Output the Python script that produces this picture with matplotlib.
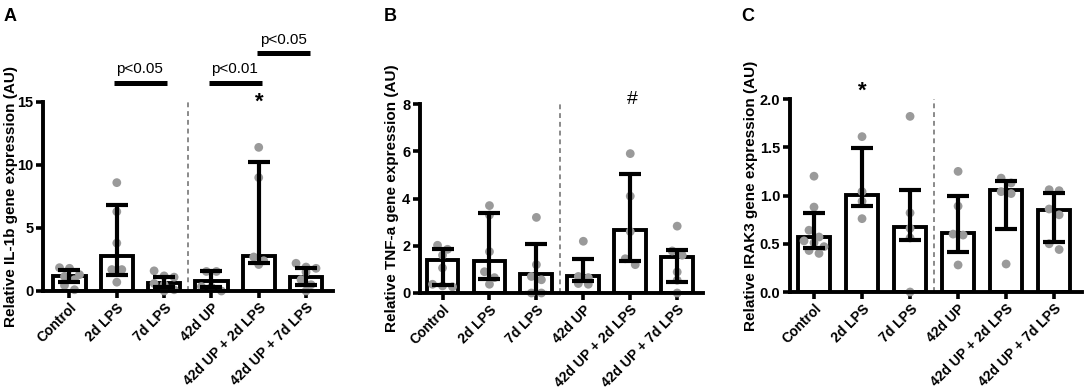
import numpy as np
import matplotlib
matplotlib.use('Agg')
import matplotlib.pyplot as plt

plt.rcParams['font.family'] = ['Liberation Sans', 'DejaVu Sans']

groups = ['Control', '2d LPS', '7d LPS', '42d UP', '42d UP + 2d LPS', '42d UP + 7d LPS']

# panel A - IL-1b
il1b_bar = [1.2, 2.75, 0.65, 0.8, 2.8, 1.1]
il1b_lo = [0.75, 1.3, 0.3, 0.3, 2.2, 0.5]
il1b_hi = [1.7, 6.8, 1.15, 1.55, 10.2, 1.85]
il1b_pts = [[1.85, 1.8, 1.3, 1.15, 0.9, 0.45, 0.1],
            [8.6, 6.3, 3.8, 1.7, 1.7, 0.7],
            [1.6, 1.2, 1.1, 0.6, 0.5, 0.1, 0.0],
            [1.55, 1.55, 0.35, 0.3, 0.0],
            [11.4, 9.0, 2.7, 2.4, 2.1],
            [2.2, 1.9, 1.8, 1.5, 0.9, 0.5, 0.0]]

# panel B - TNF-a
tnf_bar = [1.4, 1.37, 0.8, 0.72, 2.66, 1.53]
tnf_lo = [0.33, 0.6, 0.0, 0.5, 1.35, 0.47]
tnf_hi = [1.87, 3.37, 2.07, 1.45, 5.02, 1.81]
tnf_pts = [[2.02, 1.85, 1.6, 1.06, 0.37, 0.3, 0.26],
           [3.7, 3.3, 1.75, 0.9, 0.65, 0.37],
           [3.2, 1.2, 0.7, 0.56, 0.0, 0.0],
           [2.19, 0.7, 0.65, 0.4, 0.37],
           [5.9, 4.1, 2.6, 1.45, 1.2],
           [2.83, 1.78, 1.6, 0.89, 0.54, 0.0]]

# panel C - IRAK3
irak_bar = [0.57, 1.01, 0.67, 0.61, 1.06, 0.85]
irak_lo = [0.46, 0.89, 0.54, 0.41, 0.65, 0.52]
irak_hi = [0.82, 1.49, 1.06, 0.99, 1.15, 1.03]
irak_pts = [[1.2, 0.88, 0.64, 0.57, 0.53, 0.51, 0.47, 0.43, 0.4],
            [1.61, 1.04, 0.94, 0.76],
            [1.82, 0.82, 0.66, 0.56, 0.0],
            [1.25, 0.89, 0.6, 0.59, 0.28],
            [1.18, 1.13, 1.04, 1.02, 0.29],
            [1.06, 1.05, 0.86, 0.8, 0.5, 0.44]]

ylabels = ['Relative IL-1b gene expression (AU)',
           'Relative TNF-a gene expression (AU)',
           'Relative IRAK3 gene expression (AU)']

fig = plt.figure(figsize=(10.84, 3.92), dpi=100)
W, H = 1084, 392


def swarm(ax, xc, vals, dot=7.0, step=10.0):
    # rows of near-equal values get spread sideways, centred on the bar
    order = np.argsort(vals)[::-1]
    pix = ax.transData.transform(np.column_stack([np.full(len(vals), xc), vals]))
    xs = np.zeros(len(vals))
    rows = []
    for i in order:
        if rows and abs(pix[rows[-1][0], 1] - pix[i, 1]) < dot:
            rows[-1].append(i)
        else:
            rows.append([i])
    for r in rows:
        n = len(r)
        for k, i in enumerate(r):
            px = pix[i, 0] + (k - (n - 1) / 2) * step
            xs[i] = ax.transData.inverted().transform((px, pix[i, 1]))[0]
    return xs


def panel(rect, xlim, ymax, yticks, bar, lo, hi, pts, ylabel, lab_px, letter, letter_x):
    ax = fig.add_axes([rect[0] / W, 1 - rect[3] / H, (rect[1] - rect[0]) / W, (rect[3] - rect[2]) / H])
    x = np.arange(len(groups))
    ax.set_xlim(*xlim)
    ax.set_ylim(0, ymax)
    bar = np.array(bar)
    ax.bar(x, bar, width=0.68, facecolor='white', edgecolor='black', linewidth=2.8, zorder=2)
    for i in range(len(groups)):
        xs = swarm(ax, x[i], pts[i])
        ax.scatter(xs, pts[i], s=40, color='#9a9a9a', edgecolors='none', zorder=3, clip_on=False)
    ax.errorbar(x, bar, yerr=[bar - np.array(lo), np.array(hi) - bar], fmt='none',
                ecolor='black', elinewidth=3.0, capsize=8, capthick=3.0, zorder=4)
    ax.plot([2.5, 2.5], [0, ymax], ls=(0, (2.5, 2)), color='#8a8a8a', lw=1.4, zorder=1)
    for s in ['top', 'right']:
        ax.spines[s].set_visible(False)
    for s in ['left', 'bottom']:
        ax.spines[s].set_linewidth(2.8)
        ax.spines[s].set_zorder(5)
    ax.set_yticks(yticks)
    ax.set_xticks(x)
    ax.set_xticklabels(groups, rotation=45, ha='right', rotation_mode='anchor', fontweight='bold', fontsize=10)
    ax.tick_params(axis='both', length=5, width=2.6, pad=2)
    ax.tick_params(axis='y', labelsize=10.5)
    for t in ax.get_yticklabels():
        t.set_fontweight('bold')
    ax.set_ylabel(ylabel, fontweight='bold', fontsize=11)
    ax.yaxis.label.set_va('center')
    ax.yaxis.set_label_coords((lab_px - rect[0]) / (rect[1] - rect[0]), 0.5)
    fig.text(letter_x / W, 1 - 21 / H, letter, fontsize=13, fontweight='bold')
    return ax


axA = panel((43, 333, 102, 291), (-0.56, 5.57), 15, [0, 5, 10, 15],
            il1b_bar, il1b_lo, il1b_hi, il1b_pts, ylabels[0], 11, 'A', 4)
axB = panel((420, 703, 104, 293), (-0.48, 5.55), 8, [0, 2, 4, 6, 8],
            tnf_bar, tnf_lo, tnf_hi, tnf_pts, ylabels[1], 392, 'B', 384)
axC = panel((790, 1082, 99, 292), (-0.5, 5.58), 2, [0.0, 0.5, 1.0, 1.5, 2.0],
            irak_bar, irak_lo, irak_hi, irak_pts, ylabels[2], 751, 'C', 741)
axC.set_yticklabels(['0.0', '0.5', '1.0', '1.5', '2.0'], fontweight='bold')

# significance marks, panel A
for x0, x1, y, txt in [(0.94, 2.07, 16.5, 'p<0.05'), (2.95, 4.07, 16.5, 'p<0.01'), (3.97, 5.08, 18.85, 'p<0.05')]:
    axA.plot([x0, x1], [y, y], color='black', lw=3.6, solid_capstyle='butt', clip_on=False)
    axA.text(x0 + 0.05, y + 0.55, txt, fontsize=11, ha='left', va='bottom')
axA.text(4.02, 15.0, '*', fontsize=16, fontweight='bold', ha='center', va='center')
axB.text(4.04, 8.2, '#', fontsize=14, ha='center', va='center')
axC.text(1.0, 2.08, '*', fontsize=16, fontweight='bold', ha='center', va='center')

fig.savefig('out.png', dpi=100)
